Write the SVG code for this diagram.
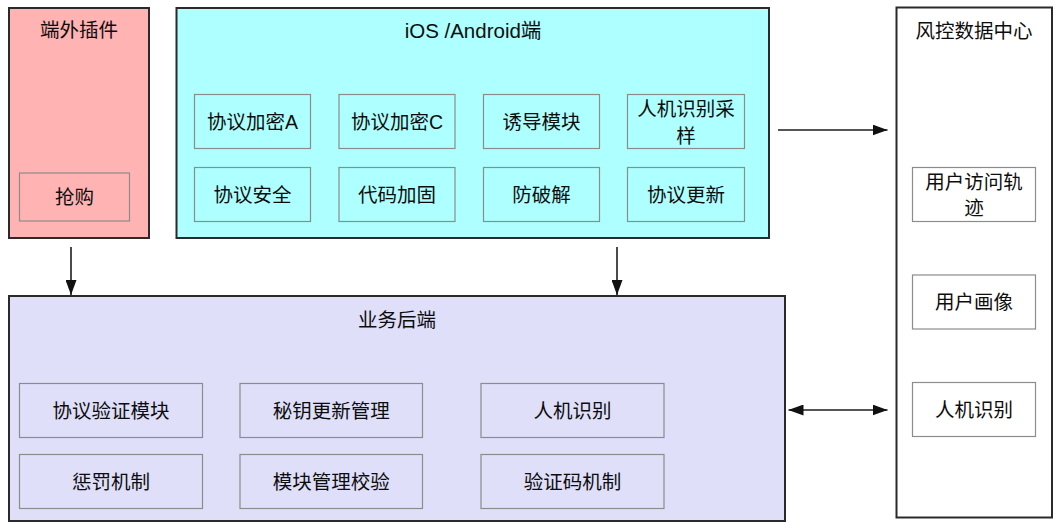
<svg xmlns="http://www.w3.org/2000/svg" width="1058" height="529" viewBox="0 0 1058 529">
<defs>
<style>
text{font-family:"Liberation Sans","Noto Sans CJK SC",sans-serif;font-size:19.5px;fill:#0d0d0d;text-anchor:middle;dominant-baseline:central}
.outer{stroke:#2a2a2a;stroke-width:2}
.inner{fill:none;stroke:#8c8c8c;stroke-width:1.2}
.conn{stroke:#1e1e1e;stroke-width:1.6;fill:none}
</style>
<marker id="ah" markerUnits="userSpaceOnUse" markerWidth="15" markerHeight="11" refX="15" refY="5.5" orient="auto-start-reverse" viewBox="0 0 15 11">
<path d="M0,0 L15,5.5 L0,11 z" fill="#111"/>
</marker>
</defs>
<rect width="1058" height="529" fill="#fff"/>

<g id="plugin">
<rect class="outer" x="9" y="8" width="140" height="230" fill="#FFB3B3"/>
<text x="79" y="30">端外插件</text>
<rect class="inner" x="19.5" y="173" width="110" height="48"/>
<text x="74.5" y="197">抢购</text>
</g>

<g id="client">
<rect class="outer" x="176.5" y="8" width="592.5" height="230" fill="#AEFFFF"/>
<text x="473" y="30" style="font-size:20.5px">iOS /Android端</text>
<rect class="inner" x="194.5" y="94.5" width="116" height="54"/>
<text x="252.5" y="121.5">协议加密A</text>
<rect class="inner" x="339" y="94.5" width="116" height="54"/>
<text x="397" y="121.5">协议加密C</text>
<rect class="inner" x="483.5" y="94.5" width="116" height="54"/>
<text x="541.5" y="121.5">诱导模块</text>
<rect class="inner" x="627.5" y="94.5" width="117" height="54"/>
<text x="686" y="108.5">人机识别采</text>
<text x="686" y="135.5">样</text>
<rect class="inner" x="194.5" y="167.5" width="116" height="54"/>
<text x="252.5" y="194.5">协议安全</text>
<rect class="inner" x="339" y="167.5" width="116" height="54"/>
<text x="397" y="194.5">代码加固</text>
<rect class="inner" x="483.5" y="167.5" width="116" height="54"/>
<text x="541.5" y="194.5">防破解</text>
<rect class="inner" x="627.5" y="167.5" width="117" height="54"/>
<text x="686" y="194.5">协议更新</text>
</g>

<g id="backend">
<rect class="outer" x="9" y="296" width="776" height="225" fill="#DFDFFA"/>
<text x="397" y="320">业务后端</text>
<rect class="inner" x="19.5" y="383.5" width="183" height="54"/>
<text x="111" y="410.5">协议验证模块</text>
<rect class="inner" x="240" y="383.5" width="182.5" height="54"/>
<text x="331.25" y="410.5">秘钥更新管理</text>
<rect class="inner" x="481" y="383.5" width="183" height="54"/>
<text x="572.5" y="410.5">人机识别</text>
<rect class="inner" x="19.5" y="454.5" width="183" height="54"/>
<text x="111" y="481.5">惩罚机制</text>
<rect class="inner" x="240" y="454.5" width="182.5" height="54"/>
<text x="331.25" y="481.5">模块管理校验</text>
<rect class="inner" x="481" y="454.5" width="183" height="54"/>
<text x="572.5" y="481.5">验证码机制</text>
</g>

<g id="risk">
<rect class="outer" x="896.5" y="7.5" width="155.5" height="510" fill="#FFFFFF"/>
<text x="974" y="31">风控数据中心</text>
<rect class="inner" x="912.5" y="167.5" width="123" height="54"/>
<text x="974" y="181.5">用户访问轨</text>
<text x="974" y="208">迹</text>
<rect class="inner" x="912.5" y="275" width="123" height="54"/>
<text x="974" y="302">用户画像</text>
<rect class="inner" x="912.5" y="382.5" width="123" height="54"/>
<text x="974" y="409.5">人机识别</text>
</g>

<g id="connectors">
<line class="conn" x1="71" y1="247" x2="71" y2="295" marker-end="url(#ah)"/>
<line class="conn" x1="617" y1="247" x2="617" y2="295" marker-end="url(#ah)"/>
<line class="conn" x1="778" y1="130" x2="887.5" y2="130" marker-end="url(#ah)"/>
<line class="conn" x1="788.5" y1="410" x2="887.5" y2="410" marker-start="url(#ah)" marker-end="url(#ah)"/>
</g>
</svg>
